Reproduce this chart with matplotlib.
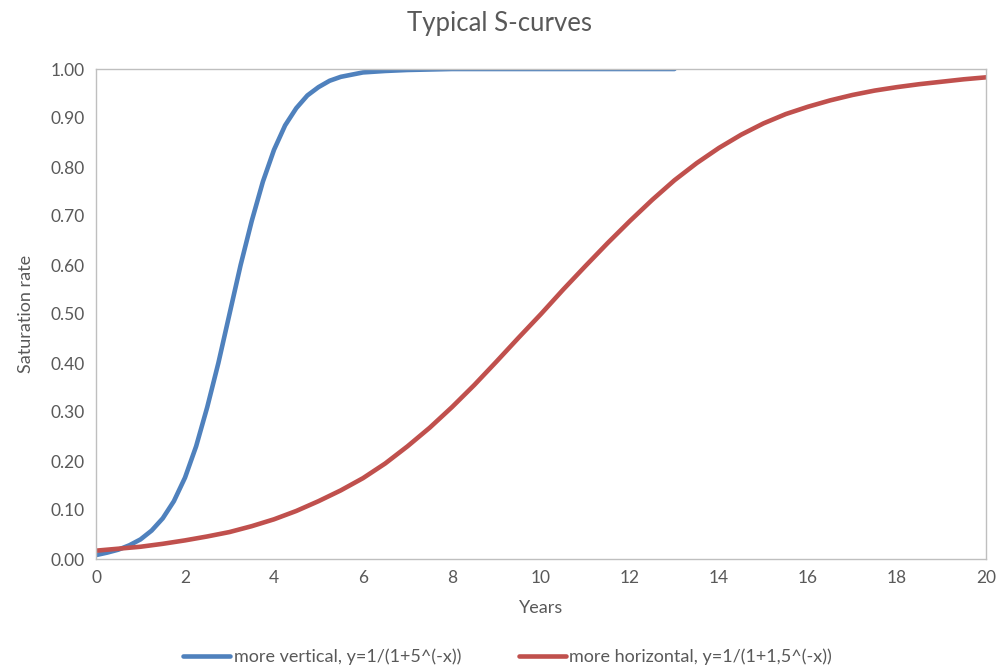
import matplotlib
matplotlib.use('Agg')
import matplotlib.pyplot as plt

# values
x_vertical = [0, 0.25, 0.5, 0.75, 1, 1.25, 1.5, 1.75, 2, 2.25, 2.5, 2.75, 3, 3.25, 3.5, 3.75,
              4, 4.25, 4.5, 4.75, 5, 5.25, 5.5, 6, 6.5, 7, 8, 9, 10, 11, 12, 13]
y_vertical = [0.008, 0.013, 0.019, 0.028, 0.040, 0.058, 0.083, 0.118, 0.166, 0.23, 0.31, 0.40,
              0.50, 0.60, 0.69, 0.77, 0.835, 0.885, 0.92, 0.946, 0.963, 0.976, 0.984,
              0.993, 0.996, 0.998, 1.0, 1.0, 1.0, 1.0, 1.0, 1.0]

x_horizontal = [i / 2 for i in range(0, 41)]
y_horizontal = [0.017, 0.021, 0.025, 0.031, 0.038, 0.046, 0.055, 0.067, 0.081, 0.098,
                0.118, 0.14, 0.165, 0.195, 0.23, 0.268, 0.31, 0.355, 0.403, 0.452,
                0.50, 0.55, 0.598, 0.645, 0.69, 0.733, 0.773, 0.808, 0.839, 0.866,
                0.889, 0.908, 0.923, 0.936, 0.947, 0.956, 0.963, 0.969, 0.974, 0.979, 0.983]

label_vertical = 'more vertical, y=1/(1+5^(-x))'
label_horizontal = 'more horizontal, y=1/(1+1,5^(-x))'

plt.rcParams['font.family'] = ['Lato', 'DejaVu Sans']
grey = '#595959'

fig = plt.figure(figsize=(9.99, 6.68), dpi=100)
ax = fig.add_axes([96 / 999, 1 - 559 / 668, 890 / 999, 490 / 668])

ax.plot(x_vertical, y_vertical, color='#4F81BD', lw=3.3, solid_capstyle='round',
        solid_joinstyle='round', label=label_vertical)
ax.plot(x_horizontal, y_horizontal, color='#C0504D', lw=3.3, solid_capstyle='round',
        solid_joinstyle='round', label=label_horizontal)

ax.set_xlim(0, 20)
ax.set_ylim(0, 1)
ax.set_xticks(range(0, 21, 2))
ax.set_yticks([i / 10 for i in range(11)])
ax.set_yticklabels(['%.2f' % (i / 10) for i in range(11)])
ax.tick_params(length=0, labelsize=12.5, labelcolor=grey, pad=8)
for s in ax.spines.values():
    s.set_color('#BFBFBF')
    s.set_linewidth(1)

ax.set_xlabel('Years', fontsize=13, color=grey, labelpad=10)
ax.set_ylabel('Saturation rate', fontsize=13, color=grey, labelpad=12)
fig.text(0.5, 1 - 24 / 668, 'Typical S-curves', ha='center', va='center', fontsize=18.5, color=grey)

fig.legend(loc='center', bbox_to_anchor=(0.508, 1 - 657 / 668), ncol=2, frameon=False,
           fontsize=13, labelcolor=grey, handlelength=2.6, handletextpad=0.2, columnspacing=3.2)

fig.savefig('out.png', dpi=100)
